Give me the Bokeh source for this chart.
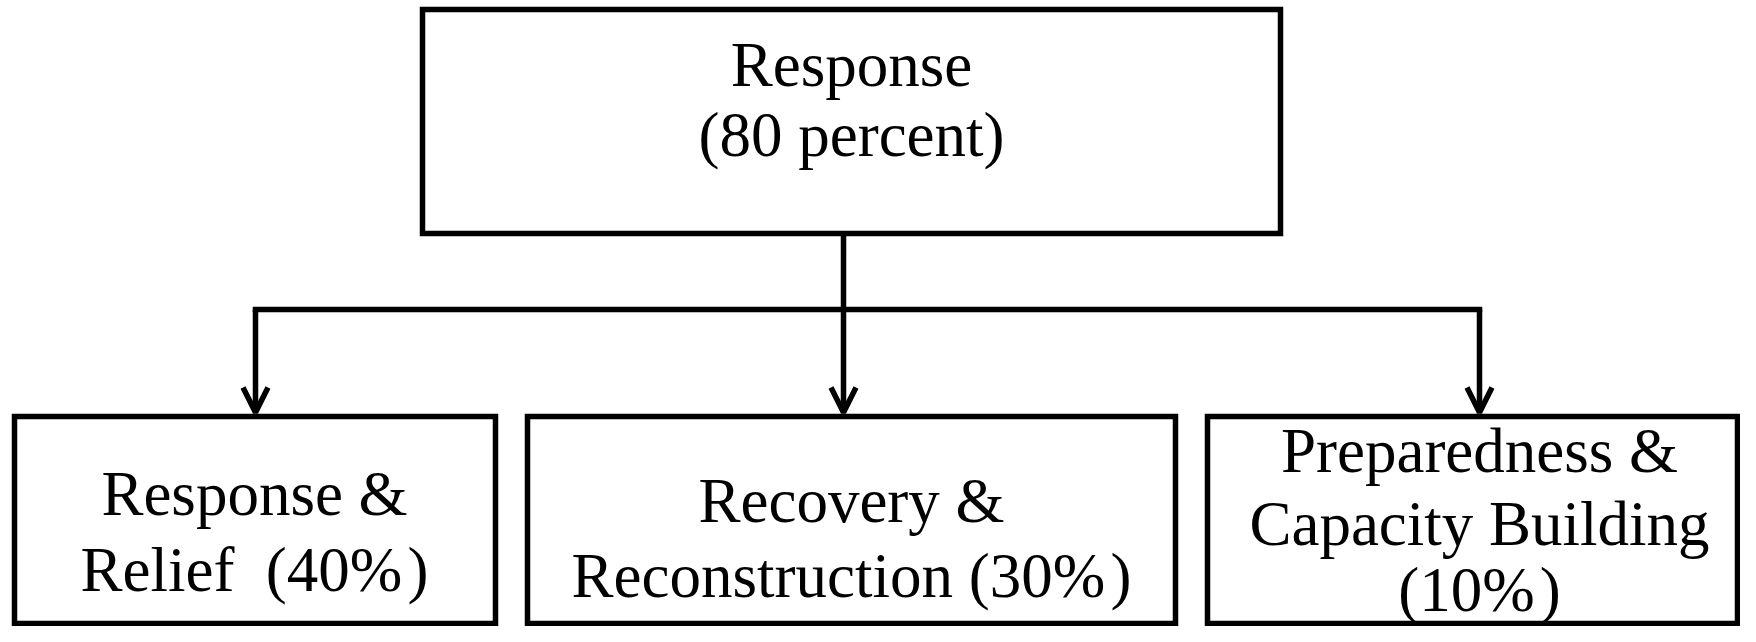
from bokeh.plotting import figure
from bokeh.models import Range1d, Arrow, OpenHead
from bokeh.core.properties import value
from bokeh.embed import file_html
from bokeh.resources import INLINE

# ---- data ----
top_lines = ["Response", "(80 percent)"]
child_names = ["Response & Relief", "Recovery & Reconstruction", "Preparedness & Capacity Building"]
child_shares = [40, 30, 10]
child_lines = [
    ["Response &", "Relief\u00a0 (40%\u200a)"],
    ["Recovery &", "Reconstruction (30%\u200a)"],
    ["Preparedness &", "Capacity Building", "(10%\u200a)"],
]

# ---- layout (screen-pixel coordinates) ----
FONT = value("Liberation Serif")
FS = "63px"
LW = 5.5
TXT_DY = -21  # correction for where the SVG text baseline is drawn

top_box = dict(left=422, right=1280, top=9, bottom=233)
top_baselines = [85, 155]
stem_x = 843
bus_y = 309
child_top = 416
child_bottom = 623
child_boxes = [(14, 495), (527, 1175), (1207, 1737)]
child_text_x = [254, 851, 1479]
child_arrow_x = [255, 843, 1479]
child_baselines = [[514, 590], [521, 596], [471, 544, 610]]

p = figure(width=1740, height=626, output_backend="svg", toolbar_location=None,
           x_range=Range1d(0, 1740), y_range=Range1d(626, 0), min_border=0)
p.axis.visible = False
p.grid.visible = False
p.outline_line_color = None
p.background_fill_color = "white"
p.border_fill_color = "white"

# top box
p.quad(left=[top_box["left"]], right=[top_box["right"]], top=[top_box["top"]],
       bottom=[top_box["bottom"]], fill_color=None, line_color="black", line_width=LW,
       line_join="miter")
cx_top = (top_box["left"] + top_box["right"]) / 2
p.text(x=[cx_top] * len(top_lines), y=[b + TXT_DY for b in top_baselines], text=top_lines,
       text_font=FONT, text_font_size=FS, text_align="center",
       text_baseline="alphabetic", text_color="black")

# connectors
p.segment(x0=[stem_x], y0=[top_box["bottom"]], x1=[stem_x], y1=[bus_y],
          line_color="black", line_width=LW)
p.segment(x0=[child_arrow_x[0]], y0=[bus_y], x1=[child_arrow_x[-1]], y1=[bus_y],
          line_color="black", line_width=LW, line_cap="square")
for ax in child_arrow_x:
    p.add_layout(Arrow(end=OpenHead(size=25, line_width=LW, line_color="black"),
                       x_start=ax, y_start=bus_y, x_end=ax, y_end=child_top - 4,
                       line_color="black", line_width=LW))

# child boxes
p.quad(left=[b[0] for b in child_boxes], right=[b[1] for b in child_boxes],
       top=[child_top] * 3, bottom=[child_bottom] * 3,
       fill_color=None, line_color="black", line_width=LW, line_join="miter")
for cx, lines, bls in zip(child_text_x, child_lines, child_baselines):
    p.text(x=[cx] * len(lines), y=[b + TXT_DY for b in bls], text=lines,
           text_font=FONT, text_font_size=FS,
           text_align="center", text_baseline="alphabetic", text_color="black")

open("out.html", "w").write(file_html(p, INLINE))
